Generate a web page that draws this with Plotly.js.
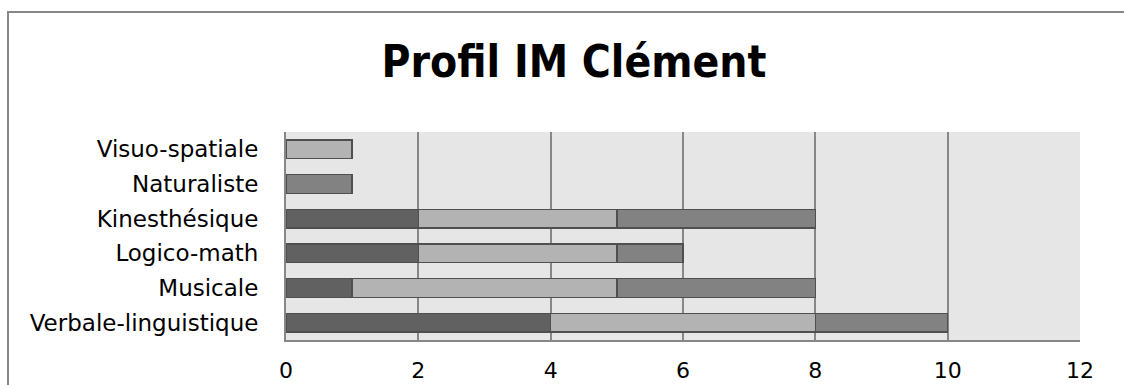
<!DOCTYPE html>
<html>
<head>
<meta charset="utf-8">
<script src="https://cdn.plot.ly/plotly-3.0.1.min.js"></script>
<style>html,body{margin:0;padding:0;background:#fff;}#chart{width:1124px;height:385px;}</style>
</head>
<body>
<div id="chart"></div>
<script>
const categories = ["Verbale-linguistique", "Musicale", "Logico-math", "Kinesthésique", "Naturaliste", "Visuo-spatiale"];
const serie1 = [4, 1, 2, 2, 0, 0];
const serie2 = [4, 4, 3, 3, 0, 1];
const serie3 = [2, 3, 1, 3, 1, 0];
const xTicks = [0, 2, 4, 6, 8, 10, 12];
const chartTitle = "Profil IM Clément";

const colors = ["#616161", "#b3b3b3", "#828282"];
const lineStyle = {color: "#4f4f4f", width: 1.5};
const traces = [serie1, serie2, serie3].map((vals, i) => ({
  type: "bar",
  orientation: "h",
  y: categories,
  x: vals,
  name: "Série " + (i + 1),
  marker: {color: colors[i], line: lineStyle},
  hoverinfo: "x+y"
}));

const W = 1124, H = 385;
const L = 286, R = 1080, T = 132, B = 340;
const pw = R - L, ph = B - T;
const px = v => (v - L) / pw;
const py = v => (B - v) / ph;

const layout = {
  width: W, height: H,
  margin: {l: L, r: W - R, t: T, b: H - B, pad: 0},
  paper_bgcolor: "#ffffff",
  plot_bgcolor: "#e6e6e6",
  barmode: "stack",
  bargap: 0.46,
  showlegend: false,
  font: {family: "DejaVu Sans, sans-serif", color: "#000"},
  title: {
    text: "<b>" + chartTitle + "</b>",
    font: {family: "DejaVu Sans Condensed, DejaVu Sans, sans-serif", size: 44, color: "#000"},
    x: 574 / W, xanchor: "center", xref: "container",
    y: 1 - 62 / H, yanchor: "middle", yref: "container"
  },
  xaxis: {
    range: [0, 12],
    tickvals: xTicks,
    ticktext: xTicks.map(String),
    showgrid: true,
    gridcolor: "#878787",
    gridwidth: 2,
    zeroline: false,
    showline: true,
    linecolor: "#878787",
    linewidth: 2,
    ticks: "",
    ticklabelstandoff: 10,
    tickfont: {family: "DejaVu Sans, sans-serif", size: 22, color: "#000"},
    fixedrange: true
  },
  yaxis: {
    type: "category",
    categoryorder: "array",
    categoryarray: categories,
    showgrid: false,
    zeroline: false,
    showline: true,
    linecolor: "#878787",
    linewidth: 2,
    ticks: "",
    ticklabelstandoff: 21,
    tickfont: {family: "DejaVu Sans, sans-serif", size: 23, color: "#000"},
    fixedrange: true
  },
  shapes: [{
    type: "rect", xref: "paper", yref: "paper",
    x0: px(8), x1: px(1140), y0: py(400), y1: py(12),
    line: {color: "#878787", width: 2},
    fillcolor: "rgba(0,0,0,0)",
    layer: "below"
  }]
};

Plotly.newPlot("chart", traces, layout, {displayModeBar: false, staticPlot: true});
</script>
</body>
</html>
